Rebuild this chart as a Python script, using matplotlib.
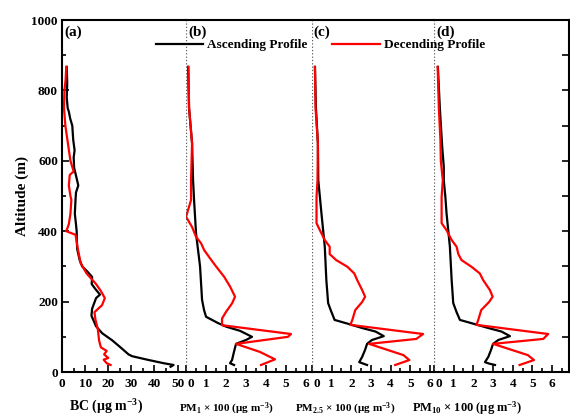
import numpy as np
import matplotlib
matplotlib.use("Agg")
import matplotlib.pyplot as plt
from matplotlib.ticker import MultipleLocator, FuncFormatter

plt.rcParams.update({
    "font.family": "Liberation Serif",
    "font.weight": "bold",
    "mathtext.fontset": "custom",
    "mathtext.rm": "Liberation Serif:bold",
    "mathtext.it": "Liberation Serif:italic:bold",
    "mathtext.bf": "Liberation Serif:bold",
    "axes.linewidth": 1.5,
})

# --- data: (altitude m, value) read from the profiles ---
bc_asc_alt = [867, 820, 780, 750, 740, 720, 700, 660, 630, 610, 580, 550, 530, 510, 489, 450, 420, 400,
              350, 318, 300, 285, 270, 250, 235, 220, 210, 180, 160, 130, 110, 90, 70, 50, 45, 35, 25, 20, 15]
bc_asc = [2.0, 2.2, 2.0, 2.4, 2.9, 3.5, 4.4, 4.8, 5.4, 5.0, 5.2, 6.3, 7.0, 6.0, 5.8, 5.5, 6.0, 6.3,
          6.5, 7.6, 8.7, 11.0, 13.0, 12.8, 14.5, 16.4, 14.7, 13.0, 12.7, 14.7, 17.4, 21.7, 25.3, 28.8, 30.3,
          36.9, 44.0, 48.3, 47.0]
bc_desc_alt = [867, 830, 800, 750, 700, 650, 600, 570, 560, 530, 500, 489, 450, 420, 400, 390, 370, 350,
               310, 280, 250, 230, 210, 190, 170, 150, 120, 90, 70, 60, 50, 40, 35, 25, 20]
bc_desc = [1.8, 1.5, 1.0, 0.8, 1.4, 2.5, 3.6, 5.0, 3.3, 2.9, 3.6, 4.0, 3.6, 2.9, 1.8, 5.8, 6.3, 6.8,
           8.0, 10.6, 14.7, 16.8, 18.5, 17.3, 14.0, 14.4, 15.5, 16.0, 16.8, 19.3, 18.2, 20.0, 18.0, 19.3, 21.0]

pm1_asc_alt = [867, 750, 650, 545, 489, 393, 300, 205, 176, 157, 139, 129, 117, 100, 91, 80, 58, 34, 25, 20]
pm1_asc = [0.1, 0.15, 0.3, 0.35, 0.4, 0.5, 0.7, 0.8, 0.9, 1.0, 1.6, 2.0, 2.7, 3.3, 3.0, 2.5, 2.4, 2.3, 2.2, 2.4]
pm1_desc_alt = [867, 750, 650, 545, 489, 441, 412, 384, 366, 347, 323, 300, 271, 243, 214, 195, 171, 152,
                133, 108, 100, 80, 57, 36, 20]
pm1_desc = [0.12, 0.15, 0.3, 0.25, 0.25, 0.0, 0.3, 0.5, 0.75, 0.9, 1.2, 1.5, 1.9, 2.2, 2.45, 2.3, 2.0, 1.8,
            1.8, 5.25, 5.1, 2.5, 3.7, 4.45, 3.75]

pm25_asc_alt = [867, 750, 650, 545, 451, 356, 261, 196, 176, 148, 136, 125, 115, 102, 91, 80, 63, 43, 28, 24, 20]
pm25_asc = [0.15, 0.2, 0.3, 0.32, 0.48, 0.65, 0.73, 0.82, 0.95, 1.15, 1.9, 2.55, 3.23, 3.65, 3.05, 2.8, 2.7,
            2.55, 2.4, 2.6, 2.8]
pm25_desc_alt = [867, 750, 650, 545, 497, 423, 403, 375, 356, 335, 318, 299, 280, 261, 233, 214, 199, 176,
                 148, 134, 108, 94, 80, 48, 34, 20]
pm25_desc = [0.15, 0.18, 0.3, 0.28, 0.23, 0.23, 0.4, 0.65, 0.9, 0.9, 1.23, 1.8, 2.15, 2.3, 2.55, 2.7, 2.55,
             2.2, 2.05, 1.95, 5.65, 5.3, 2.9, 4.65, 4.95, 4.23]

pm10_asc_alt = [867, 750, 640, 583, 545, 498, 451, 356, 261, 196, 170, 148, 136, 125, 115, 102, 91, 80, 63,
                43, 28, 24, 20]
pm10_asc = [0.2, 0.3, 0.42, 0.5, 0.5, 0.58, 0.64, 0.81, 0.9, 0.98, 1.15, 1.32, 2.08, 2.76, 3.43, 3.86, 3.27,
            3.0, 2.9, 2.76, 2.59, 2.8, 3.1]
pm10_desc_alt = [867, 750, 659, 600, 545, 497, 423, 403, 375, 356, 335, 318, 299, 280, 261, 233, 214, 199,
                 176, 148, 134, 108, 94, 80, 48, 34, 20]
pm10_desc = [0.19, 0.25, 0.33, 0.35, 0.45, 0.39, 0.39, 0.64, 0.9, 1.15, 1.24, 1.4, 1.91, 2.33, 2.5, 2.84,
             2.98, 2.8, 2.4, 2.25, 2.16, 5.8, 5.55, 3.0, 4.77, 5.08, 4.35]

panels = [
    ("(a)", bc_asc, bc_asc_alt, bc_desc, bc_desc_alt, 53.7, 10, 5),
    ("(b)", pm1_asc, pm1_asc_alt, pm1_desc, pm1_desc_alt, 6.3, 1, 0.5),
    ("(c)", pm25_asc, pm25_asc_alt, pm25_desc, pm25_desc_alt, 6.2, 1, 0.5),
    ("(d)", pm10_asc, pm10_asc_alt, pm10_desc, pm10_desc_alt, 6.85, 1, 0.5),
]

fig = plt.figure(figsize=(5.7, 4.18), dpi=100)
gs = fig.add_gridspec(1, 4, width_ratios=[124, 126, 122, 135], wspace=0,
                      left=0.109, right=0.998, bottom=0.110, top=0.952)

no_zero = FuncFormatter(lambda v, p: "" if abs(v) < 1e-9 else f"{v:g}")

axes = []
for i, (lab, xa, ya, xd, yd, xmax, maj, mnr) in enumerate(panels):
    ax = fig.add_subplot(gs[0, i])
    axes.append(ax)
    ax.plot(xa, ya, color="black", lw=1.6, label="Ascending Profile")
    ax.plot(xd, yd, color="#ff0000", lw=1.6, label="Decending Profile")
    ax.set_xlim(0, xmax)
    ax.set_ylim(0, 1000)
    ax.xaxis.set_major_locator(MultipleLocator(maj))
    ax.xaxis.set_minor_locator(MultipleLocator(mnr))
    ax.tick_params(axis="x", which="major", direction="in", length=5, width=1.2,
                   labelsize=9.5, pad=4)
    ax.tick_params(axis="x", which="minor", direction="in", length=3, width=1.2)
    ax.text(0.02 if i == 0 else 0.015, 0.985, lab, transform=ax.transAxes,
            ha="left", va="top", fontsize=11, fontweight="bold")
    if i > 0:
        ax.spines["left"].set_visible(False)
        ax.axvline(0, color="0.35", ls=":", lw=0.9)
        # zero label sits just right of the panel border
        ax.xaxis.set_major_formatter(no_zero)
        ax.annotate("0", xy=(0, 0), xycoords=("data", "axes fraction"),
                    xytext=(0.8, -4), textcoords="offset points",
                    ha="left", va="top", fontsize=9.5, fontweight="bold")
    if i < 3:
        ax.spines["right"].set_visible(False)
    if i == 0:
        ax.yaxis.set_major_locator(MultipleLocator(200))
        ax.yaxis.set_minor_locator(MultipleLocator(100))
        ax.tick_params(axis="y", which="major", direction="in", length=5, width=1.2,
                       labelsize=9.5, pad=3)
        ax.tick_params(axis="y", which="minor", direction="in", length=3, width=1.2)
        ax.set_ylabel("Altitude (m)", fontsize=11, fontweight="bold", labelpad=2)
    elif i == 3:
        ax.yaxis.tick_right()
        ax.yaxis.set_major_locator(MultipleLocator(100))
        ax.tick_params(axis="y", which="major", direction="in", length=5, width=1.2,
                       labelright=False)
    else:
        ax.tick_params(axis="y", which="both", left=False, labelleft=False)

handles, labels = axes[0].get_legend_handles_labels()
fig.legend(handles, labels, ncol=2, loc="center", bbox_to_anchor=(0.562, 0.892),
           frameon=False, handlelength=3.6, handletextpad=0.3,
           columnspacing=1.9, prop={"weight": "bold", "size": 9.5})

fig.text(106 / 570, 1 - 407 / 418, "BC (μg m$^{-3}$)", ha="center", va="center", fontsize=10)
fig.text(226 / 570, 1 - 409 / 418, "PM$_1$ × 100 (μg m$^{-3}$)", ha="center", va="center", fontsize=8)
fig.text(345 / 570, 1 - 409 / 418, "PM$_{2.5}$ × 100 (μg m$^{-3}$)", ha="center", va="center", fontsize=8)
fig.text(467 / 570, 1 - 408 / 418, "PM$_{10}$ × 100 (μg m$^{-3}$)", ha="center", va="center", fontsize=9)

fig.savefig("out.png", dpi=100)
